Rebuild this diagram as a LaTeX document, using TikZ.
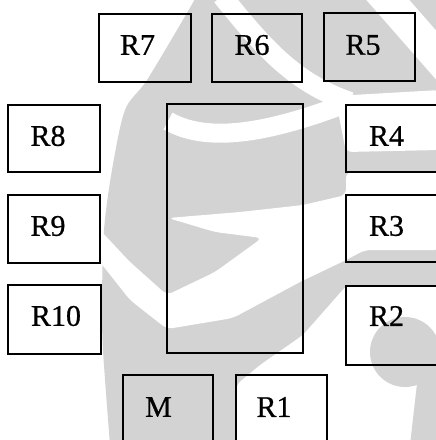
\documentclass[tikz,border=0pt]{standalone}
\usepackage{fontspec}
\setmainfont{Liberation Serif}
\newfontfamily\roomfont{Liberation Serif}[UprightFeatures={FakeBold=0.7}]
\definecolor{wm}{RGB}{211,211,211}
\begin{document}
\begin{tikzpicture}[x=1pt,y=-1pt,
  room/.style={draw=black, line width=1.9pt, inner sep=0pt},
  roomname/.style={inner sep=0pt, font=\roomfont\fontsize{30}{30}\selectfont},
  paper/.style={fill=white, draw=none, rounded corners=6pt},
  tint/.style={fill=wm, draw=none}]
\useasboundingbox (0,0) rectangle (436,440);
\clip (0,0) rectangle (436,440);

% --- faint background emblem ---
\fill[tint] plot[smooth] coordinates {(110,445) (103,350) (102,300) (104,230)
  (112,170) (125,110) (147,80) (187,13) (197,-5)} -- (440,-5) -- (440,445) -- cycle;
% light bands cut through the emblem
\fill[white] (362,-5) -- (405,-5) -- (440,35) -- (440,84) -- cycle;
\draw[white, line width=20pt] (222,-4) .. controls (262,45) and (292,82) .. (350,102);
\draw[white, line width=19pt] (168,121) .. controls (205,142) and (262,136) .. (350,102);
\fill[paper] (335,96) -- (440,90) -- (440,150) -- (346,152) -- cycle;
\fill[paper] (346,172) -- (440,172) -- (440,250) -- (365,250) -- (346,260)
  -- (300,282) -- (233,318) -- (167,329) -- (130,300) -- (100,262) -- (100,230)
  -- (130,262) -- (167,295) -- (215,272) -- (262,238) -- (215,232) -- (168,218)
  -- (240,212) -- (303,205) -- (346,195) -- cycle;
\fill[paper] (236,445) -- (236,385) -- (260,365) -- (303,335) -- (347,285)
  -- (440,285) -- (440,445) -- cycle;
\fill[tint] (405,352) circle[radius=35];
\fill[tint] (418,375) -- (440,360) -- (440,445) -- (410,445) -- cycle;

% --- rooms ---
\node[room, minimum width=92pt, minimum height=68pt] (r7) at (145,48) {};
\node[room, minimum width=90pt, minimum height=68pt] (r6) at (257,48) {};
\node[room, minimum width=91pt, minimum height=68pt] (r5) at (369.5,47) {};
\node[room, minimum width=92pt, minimum height=67pt] (r8) at (54,138.5) {};
\node[room, minimum width=92pt, minimum height=68pt] (r9) at (54,229) {};
\node[room, minimum width=93pt, minimum height=69pt] (r10) at (54.5,319.5) {};
\node[room, minimum width=136pt, minimum height=249pt] (hall) at (235,228.5) {};
\node[room, minimum width=92pt, minimum height=67pt] (r4) at (392,138.5) {};
\node[room, minimum width=92pt, minimum height=67pt] (r3) at (392,228.5) {};
\node[room, minimum width=92pt, minimum height=79pt] (r2) at (392,325.5) {};
\node[room, minimum width=90pt, minimum height=68pt] (m) at (168,409) {};
\node[room, minimum width=91pt, minimum height=68pt] (r1) at (281.5,409) {};

% --- room names ---
\node[roomname] (t7) at (137.5,45) {R7};
\node[roomname] (t6) at (252,45) {R6};
\node[roomname] (t5) at (363,45) {R5};
\node[roomname] (t8) at (48,136) {R8};
\node[roomname] (t9) at (48,226) {R9};
\node[roomname] (t10) at (56,316) {R10};
\node[roomname] (t4) at (386.5,136) {R4};
\node[roomname] (t3) at (386.5,226) {R3};
\node[roomname] (t2) at (386.5,316) {R2};
\node[roomname] (tm) at (158.5,407) {M};
\node[roomname] (t1) at (274,407) {R1};
\end{tikzpicture}
\end{document}
